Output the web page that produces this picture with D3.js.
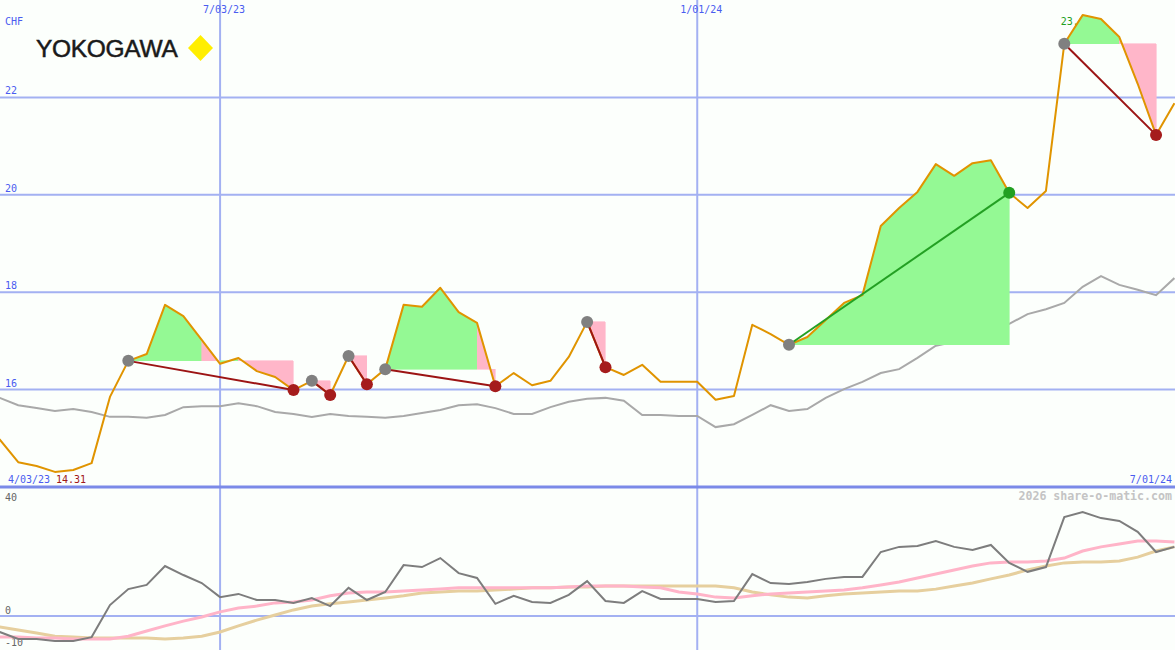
<!DOCTYPE html>
<html>
<head>
<meta charset="utf-8">
<script src="https://cdn.jsdelivr.net/npm/d3@7"></script>
<style>
  html, body { margin: 0; padding: 0; background: #fcfffc; }
  svg { display: block; }
  .lbl { font-family: "DejaVu Sans Mono", monospace; font-size: 10px; }
</style>
</head>
<body>
<svg id="chart" width="1175" height="650"></svg>
<script>
// ---- data (weekly, first week = 4/03/23) ----
const price = [15.42,14.97,14.51,14.43,14.31,14.35,14.49,15.85,16.59,16.73,
  17.74,17.51,17.02,16.53,16.65,16.38,16.26,15.99,16.18,15.89,
  16.69,16.11,16.42,17.74,17.70,18.09,17.59,17.37,16.07,16.34,
  16.09,16.18,16.67,17.39,16.46,16.30,16.51,16.16,16.16,16.16,
  15.79,15.87,17.33,17.14,16.92,17.08,17.43,17.78,17.94,19.36,
  19.73,20.06,20.63,20.39,20.65,20.71,20.04,19.73,20.08,23.10,
  23.69,23.61,23.24,22.28,21.23,21.88];
const benchmark = [15.87,15.83,15.68,15.62,15.56,15.60,15.54,15.44,15.44,15.42,
  15.48,15.64,15.66,15.66,15.72,15.66,15.54,15.50,15.44,15.50,
  15.46,15.44,15.42,15.46,15.52,15.58,15.68,15.70,15.62,15.50,
  15.50,15.64,15.75,15.81,15.83,15.77,15.48,15.48,15.46,15.46,
  15.23,15.29,15.48,15.68,15.56,15.60,15.83,16.01,16.16,16.34,
  16.42,16.65,16.90,16.98,17.29,17.16,17.35,17.55,17.65,17.78,
  18.11,18.33,18.15,18.05,17.94,18.29];
const momentum = [-3.8,-5.0,-7.2,-7.2,-7.8,-7.8,-6.6,3.4,8.4,9.7,
  15.6,12.8,10.3,5.9,6.9,5.0,5.0,4.1,5.6,3.1,
  8.8,5.0,7.5,15.9,15.3,18.1,13.4,11.9,3.8,6.3,
  4.4,4.1,6.6,10.9,4.7,4.1,7.8,5.3,5.3,5.3,
  4.4,4.7,13.1,10.3,10.0,10.6,11.6,12.2,12.2,20.0,
  21.6,21.9,23.4,21.6,20.6,22.2,16.6,13.8,15.3,30.9,
  32.5,30.6,29.7,26.3,20.0,21.6];
const avgFast = [-6.6,-6.6,-6.6,-6.9,-6.9,-7.2,-7.2,-7.2,-6.3,-4.7,
  -3.1,-1.6,-0.3,1.3,2.5,3.1,4.1,4.4,5.0,6.3,
  7.2,7.5,7.5,7.8,8.1,8.4,8.8,8.8,8.8,8.8,
  8.8,8.8,9.1,9.4,9.4,9.4,9.1,8.8,7.5,6.9,
  5.9,5.6,6.3,6.9,7.2,7.5,7.8,8.1,8.8,9.7,
  10.6,11.9,13.1,14.4,15.6,16.6,16.9,16.9,17.2,18.1,
  20.3,21.6,22.5,23.4,23.4,23.1];
const avgSlow = [-2.8,-3.4,-4.4,-5.3,-6.3,-6.6,-6.9,-6.9,-6.9,-6.9,
  -7.2,-6.9,-6.3,-5.0,-3.1,-1.3,0.3,1.9,3.1,3.8,
  4.4,5.0,5.6,6.3,7.2,7.5,7.8,7.8,8.1,8.4,
  8.8,8.8,9.1,9.1,9.4,9.4,9.4,9.4,9.4,9.4,
  9.4,8.8,7.5,6.6,5.9,5.6,6.3,6.9,7.2,7.5,
  7.8,7.8,8.4,9.4,10.3,11.6,12.8,14.4,15.6,16.6,
  16.9,16.9,17.2,18.4,20.3,21.6];
// trades: [buy week, sell week]
const tradeBuy  = [8, 18, 20, 22, 33, 44, 59];
const tradeSell = [17, 19, 21, 28, 34, 56, 64];
const dateTickWeeks  = [13, 39];
const dateTickLabels = ["7/03/23", "1/01/24"];
const startLabel = "4/03/23";
const endLabel = "7/01/24";
const priceTicks = [16, 18, 20, 22];
const lowerTicks = [40, 0, -10];
const minLabel = "14.31";
const maxLabel = "23.69";
const currency = "CHF";
const brand = "YOKOGAWA";
const watermark = "2026 share-o-matic.com";

// ---- scales ----
const W = 1175, H = 650;
const x = d3.scaleLinear().domain([0, 65]).range([-18.5, 1174.4]);
const y = d3.scaleLinear().domain([14, 24]).range([487, 0]);
const y2 = d3.scaleLinear().domain([-10, 40]).range([648, 488]);

const svg = d3.select("#chart");
svg.append("rect").attr("width", W).attr("height", H).attr("fill", "#fcfffc");

const GRID = "#a3b1f2";
// horizontal price grid
svg.append("g").selectAll("line").data(priceTicks).join("line")
  .attr("x1", 0).attr("x2", W)
  .attr("y1", d => y(d)).attr("y2", d => y(d))
  .attr("stroke", GRID).attr("stroke-width", 2);
// lower zero line
svg.append("line").attr("x1", 0).attr("x2", W)
  .attr("y1", y2(0)).attr("y2", y2(0))
  .attr("stroke", GRID).attr("stroke-width", 2);
// vertical date lines
svg.append("g").selectAll("line").data(dateTickWeeks).join("line")
  .attr("x1", d => x(d)).attr("x2", d => x(d))
  .attr("y1", 0).attr("y2", H)
  .attr("stroke", GRID).attr("stroke-width", 2);
// separator between panels
svg.append("line").attr("x1", 0).attr("x2", W)
  .attr("y1", y(14)).attr("y2", y(14))
  .attr("stroke", "#7b8ae8").attr("stroke-width", 3);

// labels
const lblColor = "#4a5cf0";
svg.append("text").attr("class", "lbl").attr("x", 5).attr("y", 25)
  .attr("fill", lblColor).text(currency);
svg.append("g").selectAll("text").data(priceTicks).join("text")
  .attr("class", "lbl").attr("x", 5).attr("y", d => y(d) - 3)
  .attr("fill", lblColor).text(d => d);
svg.append("g").selectAll("text").data(dateTickWeeks).join("text")
  .attr("class", "lbl").attr("x", (d) => x(d) + 4).attr("y", 13)
  .attr("text-anchor", "middle").attr("fill", lblColor)
  .text((d, i) => dateTickLabels[i]);
svg.append("text").attr("class", "lbl").attr("x", 8).attr("y", 483)
  .attr("fill", lblColor).text(startLabel);
svg.append("text").attr("class", "lbl").attr("x", 56).attr("y", 483)
  .attr("fill", "#a01818").text(minLabel);
svg.append("text").attr("class", "lbl").attr("x", 1172).attr("y", 483)
  .attr("text-anchor", "end").attr("fill", lblColor).text(endLabel);
svg.append("g").selectAll("text").data(lowerTicks).join("text")
  .attr("class", "lbl").attr("x", 5)
  .attr("y", d => d === 40 ? 501 : y2(d) - 2)
  .attr("fill", "#666").text(d => d);
svg.append("text").attr("x", 1172).attr("y", 500)
  .attr("text-anchor", "end")
  .attr("font-family", "DejaVu Sans Mono, monospace")
  .attr("font-size", "11.6px").attr("font-weight", "bold")
  .attr("fill", "#c4c4c4").text(watermark);

// logo
svg.append("text").attr("x", 36).attr("y", 57)
  .attr("font-family", "Liberation Sans, Arial, sans-serif")
  .attr("font-size", "24.5px").attr("letter-spacing", "-0.3")
  .attr("fill", "#1a1a1a").attr("stroke", "#1a1a1a").attr("stroke-width", 0.5)
  .text(brand);
svg.append("path")
  .attr("d", "M200.5,35 L213,48 L200.5,61 L188,48 Z")
  .attr("fill", "#ffee00");

// benchmark line
const lineGen = (ys) => d3.line().x((d, i) => x(i)).y(d => ys(d));
svg.append("path").datum(benchmark)
  .attr("d", lineGen(y)).attr("fill", "none")
  .attr("stroke", "#a9a9a9").attr("stroke-width", 2);

// max label (drawn below fills)
const imax = d3.maxIndex(price);
svg.append("text").attr("class", "lbl").attr("x", x(imax) - 22).attr("y", 25)
  .attr("fill", "#22a022").text(maxLabel);

// trade fills
const fills = svg.append("g").attr("shape-rendering", "crispEdges");
tradeBuy.forEach((b, t) => {
  const s = tradeSell[t];
  const L = price[b];
  for (let k = b; k < s; k++) {
    const pts = [[x(k), y(price[k])], [x(k + 1), y(price[k + 1])],
                 [x(k + 1), y(L)], [x(k), y(L)]];
    const col = price[k + 1] >= L ? "#94f994" : "#ffb6c9";
    fills.append("path")
      .attr("d", "M" + pts.map(p => p.join(",")).join("L") + "Z")
      .attr("fill", col).attr("stroke", col).attr("stroke-width", 0.6);
  }
});

// price line
svg.append("path").datum(price)
  .attr("d", lineGen(y)).attr("fill", "none")
  .attr("stroke", "#e09400").attr("stroke-width", 2).attr("stroke-linejoin", "round");

// trade lines + markers
tradeBuy.forEach((b, t) => {
  const s = tradeSell[t];
  const win = price[s] > price[b];
  svg.append("line")
    .attr("x1", x(b)).attr("y1", y(price[b]))
    .attr("x2", x(s)).attr("y2", y(price[s]))
    .attr("stroke", win ? "#23a023" : "#9c1414").attr("stroke-width", 2);
});
tradeBuy.forEach((b, t) => {
  const s = tradeSell[t];
  const win = price[s] > price[b];
  svg.append("circle").attr("cx", x(b)).attr("cy", y(price[b])).attr("r", 6)
    .attr("fill", "#808080");
  svg.append("circle").attr("cx", x(s)).attr("cy", y(price[s])).attr("r", 6)
    .attr("fill", win ? "#22a022" : "#a51c1c");
});

// lower panel
svg.append("path").datum(avgSlow)
  .attr("d", lineGen(y2)).attr("fill", "none")
  .attr("stroke", "#e6cf9e").attr("stroke-width", 3);
svg.append("path").datum(avgFast)
  .attr("d", lineGen(y2)).attr("fill", "none")
  .attr("stroke", "#ffb4c8").attr("stroke-width", 3);
svg.append("path").datum(momentum)
  .attr("d", lineGen(y2)).attr("fill", "none")
  .attr("stroke", "#7d7d7d").attr("stroke-width", 2);
</script>
</body>
</html>
